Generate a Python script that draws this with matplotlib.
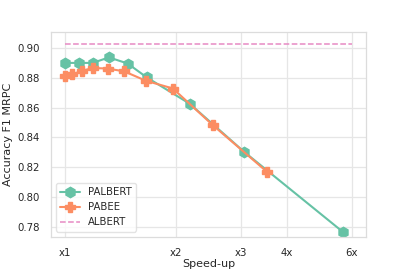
import matplotlib
matplotlib.use("Agg")
import matplotlib.pyplot as plt
import seaborn as sns
import numpy as np

# speed-up vs accuracy (F1 on MRPC)
palbert_speedup = [1.0, 1.094, 1.189, 1.317, 1.48, 1.667, 2.18, 3.06, 5.69]
palbert_f1 = [0.890, 0.890, 0.890, 0.8937, 0.8896, 0.8803, 0.8626, 0.8304, 0.7763]

pabee_speedup = [1.0, 1.047, 1.11, 1.189, 1.306, 1.449, 1.659, 1.964, 2.517, 3.54]
pabee_f1 = [0.8809, 0.8823, 0.8845, 0.8866, 0.8862, 0.8843, 0.878, 0.8728, 0.8483, 0.8167]

albert_speedup = [1.0, 6.0]
albert_f1 = [0.903, 0.903]

xticks = [1, 2, 3, 4, 6]
xtick_labels = ["x1", "x2", "x3", "4x", "6x"]
yticks = [0.78, 0.80, 0.82, 0.84, 0.86, 0.88, 0.90]

sns.set_theme(style="whitegrid")
colors = sns.color_palette("Set2")

fig = plt.figure(figsize=(4.07, 2.71), dpi=100)
ax = fig.add_axes([0.125, 0.127, 0.774, 0.754])

ax.plot(palbert_speedup, palbert_f1, marker="h", markersize=7.5, lw=1.5,
        color=colors[0], label="PALBERT")
ax.plot(pabee_speedup, pabee_f1, marker="P", markersize=7.5, lw=1.5,
        color=colors[1], label="PABEE")
ax.plot(albert_speedup, albert_f1, ls="--", lw=1.1, color=colors[3], label="ALBERT")

ax.set_xscale("log")
ax.set_xlim(0.916, 6.56)
ax.set_ylim(0.7733, 0.9106)
ax.set_xticks(xticks)
ax.set_xticklabels(xtick_labels)
ax.xaxis.set_minor_locator(matplotlib.ticker.NullLocator())
ax.set_yticks(yticks)
ax.set_yticklabels([f"{v:.2f}" for v in yticks])
ax.tick_params(labelsize=7.3, pad=2)
ax.grid(color="#e6e6e6", lw=0.9)
for sp in ax.spines.values():
    sp.set_color("#dcdcdc")
    sp.set_linewidth(0.9)

ax.set_xlabel("Speed-up", fontsize=8, labelpad=1)
ax.set_ylabel("Accuracy F1 MRPC", fontsize=8, labelpad=3)
leg = ax.legend(loc="lower left", fontsize=7.3)
leg.get_frame().set_edgecolor("#dcdcdc")

fig.savefig("out.png", dpi=100)
